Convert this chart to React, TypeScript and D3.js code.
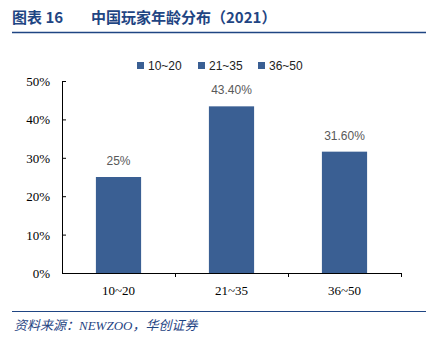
import { useEffect, useRef } from "react";
import * as d3 from "d3";

const categories = ["10~20", "21~35", "36~50"];
const values = [25, 43.4, 31.6];
const valueLabels = ["25%", "43.40%", "31.60%"];
const yTicks = [0, 10, 20, 30, 40, 50];

const W = 436;
const H = 352;
const blue = "#3A5F93";
const navy = "#1F4583";
const serif = "'Liberation Serif', 'Times New Roman', serif";

export default function App() {
  const ref = useRef<SVGSVGElement>(null);

  useEffect(() => {
    const svg = d3.select(ref.current);
    svg.selectAll("*").remove();

    const x = d3.scaleBand().domain(categories).range([62, 401]).paddingInner(0.6).paddingOuter(0.3);
    const y = d3.scaleLinear().domain([0, 50]).range([273, 81]);

    // title
    const title = svg.append("text")
      .attr("y", 23)
      .attr("fill", navy)
      .attr("font-family", "'Noto Sans CJK SC', serif")
      .attr("font-weight", "bold")
      .attr("font-size", 15);
    title.append("tspan").attr("x", 12).text("图表 16");
    title.append("tspan").attr("x", 91).text("中国玩家年龄分布（2021）");
    svg.append("line").attr("x1", 12).attr("x2", 426).attr("y1", 32.5).attr("y2", 32.5)
      .attr("stroke", navy).attr("stroke-width", 1.5);

    // legend
    const lg = svg.append("g");
    const legendX = [137, 198, 258];
    categories.forEach((c, i) => {
      lg.append("rect").attr("x", legendX[i]).attr("y", 62).attr("width", 7).attr("height", 7).attr("fill", blue);
      lg.append("text").attr("x", legendX[i] + 11).attr("y", 69.5)
        .attr("font-family", "'Liberation Sans', Arial, sans-serif").attr("font-size", 12).attr("fill", "#222")
        .text(c);
    });

    // bars
    svg.append("g").selectAll("rect").data(values).join("rect")
      .attr("x", (_, i) => x(categories[i])!)
      .attr("y", (d) => y(d))
      .attr("width", x.bandwidth())
      .attr("height", (d) => y(0) - y(d))
      .attr("fill", blue);

    svg.append("g").selectAll("text").data(values).join("text")
      .attr("x", (_, i) => x(categories[i])! + x.bandwidth() / 2)
      .attr("y", (d) => y(d) - 12)
      .attr("text-anchor", "middle")
      .attr("font-family", "'Liberation Sans', Arial, sans-serif")
      .attr("font-size", 12)
      .attr("fill", "#595959")
      .text((_, i) => valueLabels[i]);

    // y axis
    const ya = svg.append("g").attr("transform", "translate(62,0)")
      .call(d3.axisRight(y).tickValues(yTicks).tickSize(4).tickFormat(() => ""));
    ya.select(".domain").attr("stroke", "#000").attr("d", "M0.5,81V273.5");
    ya.selectAll(".tick line").attr("stroke", "#000");
    svg.append("g").selectAll("text").data(yTicks).join("text")
      .attr("x", 50).attr("y", (d) => y(d) + 5)
      .attr("text-anchor", "end")
      .attr("font-family", serif)
      .attr("font-size", 13)
      .attr("fill", "#000")
      .text((d) => d + "%");

    // x axis
    const bounds = [1, 2, 3].map((k) => 62 + k * (339 / 3));
    svg.append("line").attr("x1", 62).attr("x2", 401).attr("y1", 273.5).attr("y2", 273.5).attr("stroke", "#000");
    svg.append("g").selectAll("line").data(bounds).join("line")
      .attr("x1", (d) => d + 0.5).attr("x2", (d) => d + 0.5)
      .attr("y1", 273).attr("y2", 277).attr("stroke", "#000");
    svg.append("g").selectAll("text").data(categories).join("text")
      .attr("x", (d) => x(d)! + x.bandwidth() / 2)
      .attr("y", 295)
      .attr("text-anchor", "middle")
      .attr("font-family", serif)
      .attr("font-size", 13)
      .attr("fill", "#000")
      .text((d) => d);

    // source
    svg.append("line").attr("x1", 12).attr("x2", 426).attr("y1", 311.5).attr("y2", 311.5)
      .attr("stroke", navy).attr("stroke-width", 1.2);
    svg.append("text")
      .attr("x", 14).attr("y", 330)
      .attr("fill", navy)
      .attr("font-family", "'Liberation Serif', 'Noto Sans CJK SC', serif")
      .attr("font-style", "italic")
      .attr("font-size", 13)
      .text("资料来源：NEWZOO，华创证券");
  }, []);

  return (
    <svg ref={ref} width={W} height={H} style={{ position: "absolute", left: 0, top: 0, background: "#fff" }} />
  );
}
